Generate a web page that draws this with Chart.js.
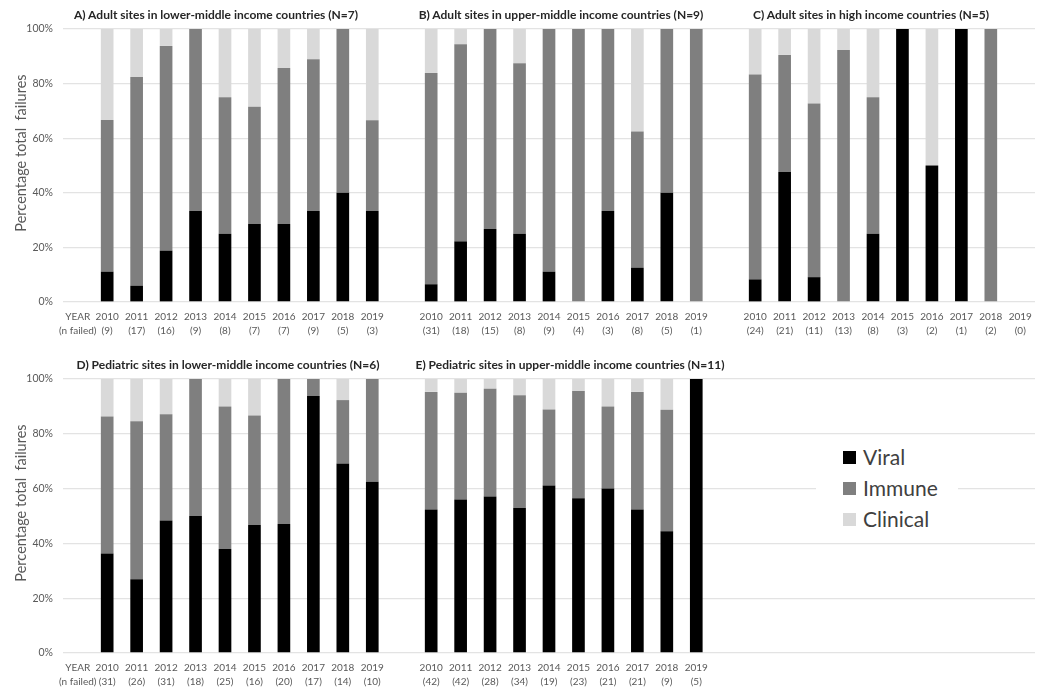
<!DOCTYPE html>
<html>
<head>
<meta charset="utf-8">
<script src="https://cdn.jsdelivr.net/npm/chart.js@4.4.1/dist/chart.umd.min.js"></script>
<style>
  html, body { margin: 0; padding: 0; background: #fff; }
  body { width: 1050px; height: 695px; position: relative; overflow: hidden; font-family: Lato, "Open Sans", sans-serif; }
  .box { position: absolute; left: 0; width: 1050px; }
  .ptitle { position: absolute; font-weight: bold; font-size: 12px; color: #262626; white-space: nowrap; transform: translate(-50%, -50%); }
  .ytitle { position: absolute; font-size: 14.5px; color: #595959; white-space: pre; transform: translate(-50%, -50%) rotate(-90deg); }
  #legend { position: absolute; left: 816px; top: 438px; width: 142px; height: 100px; background: #fff; }
  .litem { position: absolute; left: 47px; height: 24px; font-size: 21px; color: #404040; line-height: 24px; }
  .lsw { position: absolute; left: -20px; top: 6px; width: 13px; height: 13px; }
</style>
</head>
<body>
<div class="box" style="top:0;height:345px;"><canvas id="top"></canvas></div>
<div class="box" style="top:345px;height:350px;"><canvas id="bottom"></canvas></div>
<div id="titles"></div>
<div id="legend"></div>
<script>
// ---------- data ----------
const seriesNames = ['Viral', 'Immune', 'Clinical'];
const seriesColors = ['#000000', '#7f7f7f', '#d9d9d9'];
const years = ['2010','2011','2012','2013','2014','2015','2016','2017','2018','2019'];
const headerLabel = ['YEAR', '(n failed)'];

const nA = ['(9)','(17)','(16)','(9)','(8)','(7)','(7)','(9)','(5)','(3)'];
const nB = ['(31)','(18)','(15)','(8)','(9)','(4)','(3)','(8)','(5)','(1)'];
const nC = ['(24)','(21)','(11)','(13)','(8)','(3)','(2)','(1)','(2)','(0)'];
const nD = ['(31)','(26)','(31)','(18)','(25)','(16)','(20)','(17)','(14)','(10)'];
const nE = ['(42)','(42)','(28)','(34)','(19)','(23)','(21)','(21)','(9)','(5)'];

const viralA    = [11.1, 5.9, 18.8, 33.3, 25, 28.6, 28.6, 33.3, 40, 33.3];
const immuneA   = [55.6, 76.5, 75, 66.7, 50, 42.9, 57.1, 55.6, 60, 33.3];
const clinicalA = [33.3, 17.6, 6.2, 0, 25, 28.6, 14.3, 11.1, 0, 33.4];

const viralB    = [6.5, 22.2, 26.7, 25, 11.1, 0, 33.3, 12.5, 40, 0];
const immuneB   = [77.4, 72.2, 73.3, 62.5, 88.9, 100, 66.7, 50, 60, 100];
const clinicalB = [16.1, 5.6, 0, 12.5, 0, 0, 0, 37.5, 0, 0];

const viralC    = [8.3, 47.6, 9.1, 0, 25, 100, 50, 100, 0, 0];
const immuneC   = [75, 42.9, 63.6, 92.3, 50, 0, 0, 0, 100, 0];
const clinicalC = [16.7, 9.5, 27.3, 7.7, 25, 0, 50, 0, 0, 0];

const viralD    = [36.3, 26.9, 48.4, 50, 38, 46.7, 47.1, 93.8, 69.2, 62.5];
const immuneD   = [50, 57.7, 38.7, 50, 52, 40, 52.9, 6.2, 23.1, 37.5];
const clinicalD = [13.7, 15.4, 12.9, 0, 10, 13.3, 0, 0, 7.7, 0];

const viralE    = [52.4, 56, 57.1, 52.9, 61.1, 56.5, 60, 52.4, 44.4, 100];
const immuneE   = [42.9, 39, 39.3, 41.2, 27.8, 39.1, 30, 42.9, 44.4, 0];
const clinicalE = [4.7, 5, 3.6, 5.9, 11.1, 4.4, 10, 4.7, 11.2, 0];

const yTicks = [0, 20, 40, 60, 80, 100];
const yTitle = 'Percentage total  failures';
const panelTitles = [
  'A) Adult sites in lower-middle income countries (N=7)',
  'B) Adult sites in upper-middle income countries (N=9)',
  'C) Adult sites in high income countries (N=5)',
  'D) Pediatric sites in lower-middle income countries (N=6)',
  'E) Pediatric sites in upper-middle income countries (N=11)'
];

// ---------- build ----------
const yearLabels = n => years.map((y, i) => [y, n[i]]);
const blanks = Array(10).fill('');
const nulls = Array(10).fill(null);

function rowLabels(g1, g2, g3) {
  return [headerLabel, ...g1, '', ...g2, '', ...g3];
}
function rowData(a, b, c) {
  return [null, ...a, null, ...b, null, ...c];
}

function makeChart(id, labels, dataSets, padTop, xHeight) {
  return new Chart(document.getElementById(id), {
    type: 'bar',
    data: {
      labels: labels,
      datasets: seriesNames.map((name, k) => ({
        label: name,
        data: dataSets[k],
        backgroundColor: seriesColors[k],
        borderWidth: 0,
        barPercentage: 0.43,
        categoryPercentage: 1.0
      }))
    },
    options: {
      responsive: true,
      maintainAspectRatio: false,
      animation: false,
      layout: { padding: { top: padTop, right: 15, left: 0, bottom: 0 } },
      plugins: { legend: { display: false }, tooltip: { enabled: false } },
      scales: {
        x: {
          stacked: true,
          grid: { display: false, drawTicks: false },
          border: { display: false },
          ticks: {
            autoSkip: false, maxRotation: 0, minRotation: 0, padding: 8,
            color: '#595959', font: { family: 'Lato', size: 10, lineHeight: 1.4 }
          },
          afterFit: s => { s.height = xHeight; }
        },
        y: {
          stacked: true, min: 0, max: 100,
          afterBuildTicks: s => { s.ticks = yTicks.map(v => ({ value: v })); },
          grid: { color: '#e3e3e3', lineWidth: 1.3, drawTicks: false },
          border: { display: false },
          ticks: {
            padding: 10, color: '#595959',
            font: { family: 'Lato', size: 10.5 },
            callback: v => v + '%'
          },
          afterFit: s => { s.width = 63; }
        }
      }
    }
  });
}

makeChart('top',
  rowLabels(yearLabels(nA), yearLabels(nB), yearLabels(nC)),
  [rowData(viralA, viralB, viralC), rowData(immuneA, immuneB, immuneC), rowData(clinicalA, clinicalB, clinicalC)],
  29, 43);

makeChart('bottom',
  rowLabels(yearLabels(nD), yearLabels(nE), blanks),
  [rowData(viralD, viralE, nulls), rowData(immuneD, immuneE, nulls), rowData(clinicalD, clinicalE, nulls)],
  34, 42);

// ---------- titles ----------
const titlePos = [[216, 14], [561, 14], [871, 14], [228, 364], [570, 364]];
const tdiv = document.getElementById('titles');
panelTitles.forEach((t, i) => {
  const d = document.createElement('div');
  d.className = 'ptitle';
  d.style.left = titlePos[i][0] + 'px';
  d.style.top = titlePos[i][1] + 'px';
  d.textContent = t;
  tdiv.appendChild(d);
});
[[20, 153], [20, 503]].forEach(p => {
  const d = document.createElement('div');
  d.className = 'ytitle';
  d.style.left = p[0] + 'px';
  d.style.top = p[1] + 'px';
  d.textContent = yTitle;
  tdiv.appendChild(d);
});

// ---------- legend ----------
const leg = document.getElementById('legend');
seriesNames.forEach((name, k) => {
  const it = document.createElement('div');
  it.className = 'litem';
  it.style.top = (7 + k * 31) + 'px';
  const sw = document.createElement('span');
  sw.className = 'lsw';
  sw.style.background = seriesColors[k];
  it.appendChild(sw);
  it.appendChild(document.createTextNode(name));
  leg.appendChild(it);
});
</script>
</body>
</html>
